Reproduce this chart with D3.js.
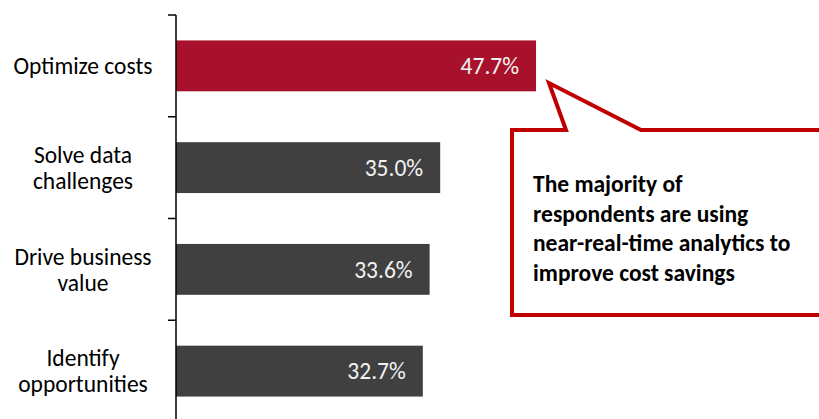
<!DOCTYPE html>
<html>
<head>
<meta charset="utf-8">
<script src="https://cdn.jsdelivr.net/npm/d3@7"></script>
<style>
  html, body { margin: 0; padding: 0; background: #fff; }
  text { font-family: Carlito, Lato, "Open Sans", sans-serif; }
</style>
</head>
<body>
<div id="chart"></div>
<script>
const categories = ['Optimize costs', 'Solve data challenges', 'Drive business value', 'Identify opportunities']
const labelLines = [['Optimize costs'], ['Solve data', 'challenges'], ['Drive business', 'value'], ['Identify', 'opportunities']]
const values = [47.7, 35.0, 33.6, 32.7]
const barColors = ['#a8112b', '#404040', '#404040', '#404040']
const calloutLines = ['The majority of', 'respondents are using', 'near-real-time analytics to', 'improve cost savings']

const width = 819, height = 419

const fig = d3.select('#chart')
    .append('svg')
    .attr('width', width).attr('height', height)

const xAxis = d3.scaleLinear()
    .domain([0, 50])
    .range([176, 553.4])

const yAxis = d3.scaleBand()
    .domain(categories)
    .range([15, 422])
    .paddingInner(0.5)
    .paddingOuter(0.25)

// bars
fig.selectAll('rect.bar')
    .data(values)
    .enter()
    .append('rect')
    .attr('class', 'bar')
    .attr('x', xAxis(0))
    .attr('y', (d, i) => yAxis(categories[i]))
    .attr('width', d => xAxis(d) - xAxis(0))
    .attr('height', yAxis.bandwidth())
    .attr('fill', (d, i) => barColors[i])

// value labels
fig.selectAll('text.val')
    .data(values)
    .enter()
    .append('text')
    .attr('class', 'val')
    .attr('x', d => xAxis(d) - 17)
    .attr('y', (d, i) => yAxis(categories[i]) + yAxis.bandwidth() / 2)
    .attr('dy', '0.35em')
    .attr('text-anchor', 'end')
    .attr('fill', '#f2f2f2')
    .style('font-size', '23.5px')
    .text(d => d.toFixed(1) + '%')

// axis line + ticks between categories
fig.append('line')
    .attr('x1', 176).attr('x2', 176)
    .attr('y1', 15).attr('y2', height)
    .attr('stroke', '#000').attr('stroke-width', 1.5)

const tickYs = d3.range(categories.length + 1).map(i => 15 + i * yAxis.step())
fig.selectAll('line.tick')
    .data(tickYs)
    .enter()
    .append('line')
    .attr('class', 'tick')
    .attr('x1', 168).attr('x2', 176)
    .attr('y1', d => d).attr('y2', d => d)
    .attr('stroke', '#000').attr('stroke-width', 1.5)

// category labels
const lineH = 26
categories.forEach((c, i) => {
    const lines = labelLines[i]
    const cy = yAxis(c) + yAxis.bandwidth() / 2
    const t = fig.append('text')
        .attr('text-anchor', 'middle')
        .attr('fill', '#000')
        .style('font-size', '23.5px')
    lines.forEach((l, j) => {
        t.append('tspan')
            .attr('x', 83)
            .attr('y', cy + (j - (lines.length - 1) / 2) * lineH)
            .attr('dy', '0.35em')
            .text(l)
    })
})

// callout box
const tip = [549, 83]
fig.append('path')
    .attr('d', `M512 130 L566 130 L${tip[0]} ${tip[1]} L641 130 L840 130 L840 315 L512 315 Z`)
    .attr('fill', '#fff')
    .attr('stroke', '#c00000')
    .attr('stroke-width', 4)
    .attr('stroke-linejoin', 'miter')

const ct = fig.append('text')
    .attr('fill', '#000')
    .style('font-size', '23.5px')
    .style('font-weight', 'bold')
calloutLines.forEach((l, j) => {
    ct.append('tspan')
        .attr('x', 533)
        .attr('y', 184 + j * 29.5)
        .attr('dy', '0.35em')
        .text(l)
})
</script>
</body>
</html>
